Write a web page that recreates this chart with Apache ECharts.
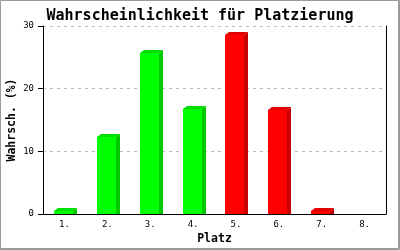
<!DOCTYPE html>
<html>
<head>
<meta charset="utf-8">
<script src="https://cdn.jsdelivr.net/npm/echarts@6/dist/echarts.min.js"></script>
<style>
html,body{margin:0;padding:0;background:#fff;}
#chart{width:400px;height:250px;}
</style>
</head>
<body>
<div id="chart"></div>
<script>
const titleText = 'Wahrscheinlichkeit für Platzierung';
const categories = ['1.', '2.', '3.', '4.', '5.', '6.', '7.', '8.'];
const values = [0.4, 12.3, 25.7, 16.7, 28.5, 16.6, 0.4, 0];
const groups = ['up', 'up', 'up', 'up', 'down', 'down', 'down', 'down'];
const yTicks = [0, 10, 20, 30];

const palette = {
  up:   { front: '#00ff00', side: '#00c800', top: '#00e000' },
  down: { front: '#ff0000', side: '#c80000', top: '#e00000' }
};
const mono = '"DejaVu Sans Mono", "Liberation Mono", monospace';

const chart = echarts.init(document.getElementById('chart'), null, { renderer: 'canvas' });

function renderItem(params, api) {
  const idx = api.value(0);
  const v = api.value(1);
  if (!(v > 0)) return null;
  const base = api.coord([idx, 0]);
  const top = api.coord([idx, v]);
  const bw = api.size([1, 0])[0] * 0.445;
  const d = 4, h = 3;
  const l = Math.round(base[0] - bw / 2 - 1);
  const r = Math.round(l + bw);
  const yb = Math.round(base[1]);
  const yt = Math.round(top[1]);
  const c = palette[groups[params.dataIndex]];
  return {
    type: 'group',
    children: [
      { type: 'polygon', shape: { points: [[r, yt], [r + d, yt - h], [r + d, yb], [r, yb]] }, style: { fill: c.side } },
      { type: 'polygon', shape: { points: [[l, yt], [l + d, yt - h], [r + d, yt - h], [r, yt]] }, style: { fill: c.top } },
      { type: 'rect', shape: { x: l, y: yt, width: r - l, height: yb - yt }, style: { fill: c.front } }
    ]
  };
}

const option = {
  animation: false,
  backgroundColor: '#fff',
  title: {
    text: titleText,
    left: 'center',
    top: 4,
    textStyle: { fontFamily: mono, fontSize: 15, fontWeight: 'bold', color: '#000' }
  },
  graphic: [
    { type: 'rect', shape: { x: 0.5, y: 0.5, width: 398, height: 248 }, style: { fill: 'none', stroke: '#9a9a9a', lineWidth: 1 }, silent: true },
    { type: 'polyline', shape: { points: [[399.5, 0], [399.5, 249.5], [0, 249.5]] }, style: { fill: 'none', stroke: '#9a9a9a', lineWidth: 1 }, silent: true }
  ],
  grid: { left: 43, right: 14, top: 26, bottom: 36, containLabel: false, outerBoundsMode: 'none' },
  xAxis: {
    type: 'category',
    data: categories,
    name: 'Platz',
    nameLocation: 'middle',
    nameGap: 19,
    nameMoveOverlap: false,
    nameTextStyle: { fontFamily: mono, fontSize: 11.5, fontWeight: 'bold', color: '#000' },
    axisLine: { lineStyle: { color: '#000', width: 1 } },
    axisTick: { show: false },
    axisLabel: { fontFamily: mono, fontSize: 9, color: '#000', margin: 6 },
    splitLine: { show: false }
  },
  yAxis: [{
    type: 'value',
    min: yTicks[0],
    max: yTicks[yTicks.length - 1],
    interval: 10,
    name: 'Wahrsch. (%)',
    nameLocation: 'middle',
    nameGap: 25,
    nameMoveOverlap: false,
    nameRotate: 90,
    nameTextStyle: { fontFamily: mono, fontSize: 11.5, fontWeight: 'bold', color: '#000' },
    axisLine: { show: true, lineStyle: { color: '#000', width: 1 } },
    axisTick: { show: true, length: 5, lineStyle: { color: '#000' } },
    axisLabel: { fontFamily: mono, fontSize: 9, color: '#000', margin: 9 },
    splitLine: { show: true, lineStyle: { color: '#bbbbbb', type: [3, 4], width: 1 } }
  }, {
    type: 'value',
    position: 'right',
    min: yTicks[0],
    max: yTicks[yTicks.length - 1],
    interval: 10,
    axisLine: { show: true, lineStyle: { color: '#000', width: 1 } },
    axisTick: { show: false },
    axisLabel: { show: false },
    splitLine: { show: false }
  }],
  series: [{
    type: 'custom',
    renderItem: renderItem,
    encode: { x: 0, y: 1 },
    data: values.map((v, i) => [i, v]),
    clip: false
  }]
};
chart.setOption(option);
</script>
</body>
</html>
